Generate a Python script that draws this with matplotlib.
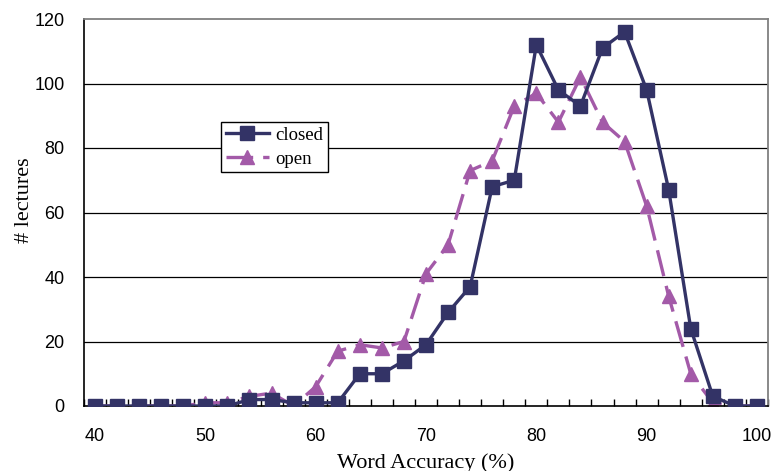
import numpy as np
import matplotlib
matplotlib.use("Agg")
import matplotlib.pyplot as plt

# word accuracy bins (%) and number of lectures per bin
acc = list(range(40, 101, 2))
closed = [0, 0, 0, 0, 0, 0, 0, 2, 2, 1, 1, 1, 10, 10, 14, 19,
          29, 37, 68, 70, 112, 98, 93, 111, 116, 98, 67, 24, 3, 0, 0]
opened = [0, 0, 0, 0, 0, 1, 1, 3, 4, 0, 6, 17, 19, 18, 20, 41,
          50, 73, 76, 93, 97, 88, 102, 88, 82, 62, 34, 10, 1, 0, 0]
xticks = [40, 50, 60, 70, 80, 90, 100]
yticks = [0, 20, 40, 60, 80, 100, 120]

c_closed = "#333366"
c_open = "#A35AA8"
sans = "Liberation Sans"
serif = "Liberation Serif"

fig = plt.figure(figsize=(7.73, 4.71), dpi=100)
ax = fig.add_axes([84 / 773, 65 / 471, 684 / 773, 387 / 471])

# grid lines
for y in yticks[1:-1]:
    ax.axhline(y, color="black", lw=0.9, zorder=0)

ax.plot(acc, closed, color=c_closed, lw=2.4, marker="s", ms=9.5,
        label="closed", zorder=3)
ax.plot(acc, opened, color=c_open, lw=2.4, marker="^", ms=10.5,
        dashes=(8, 3), label="open", zorder=2)

ax.set_xlim(39, 101)
ax.set_ylim(0, 120)

# tick marks between categories, labels on the categories
ax.set_xticks(xticks)
ax.set_xticklabels([str(v) for v in xticks], fontsize=13, family=sans)
ax.tick_params(axis="x", which="major", length=0, pad=16)
ax.set_xticks(np.arange(39, 102, 2), minor=True)
ax.tick_params(axis="x", which="minor", direction="in", length=5, width=1)
ax.set_yticks(yticks)
ax.set_yticklabels([str(v) for v in yticks], fontsize=13, family=sans)
ax.tick_params(axis="y", length=0, pad=14)

for s in ["top", "right"]:
    ax.spines[s].set_color("#808080")
    ax.spines[s].set_linewidth(1.3)
for s in ["left", "bottom"]:
    ax.spines[s].set_color("black")
    ax.spines[s].set_linewidth(1.2)

ax.set_xlabel("Word Accuracy (%)", fontsize=16, family=serif, labelpad=6)
ax.set_ylabel("# lectures", fontsize=16, family=serif)
ax.yaxis.set_label_coords(-0.073, 0.532)

leg = ax.legend(loc="upper left", bbox_to_anchor=(137 / 684, 1 - 103 / 387),
                prop={"family": serif, "size": 13.5}, fancybox=False,
                framealpha=1, edgecolor="black", borderpad=0.25,
                handlelength=2.3, handletextpad=0.35, labelspacing=0.35,
                borderaxespad=0)
leg.get_frame().set_linewidth(1.0)

fig.savefig("out.png", dpi=100)
